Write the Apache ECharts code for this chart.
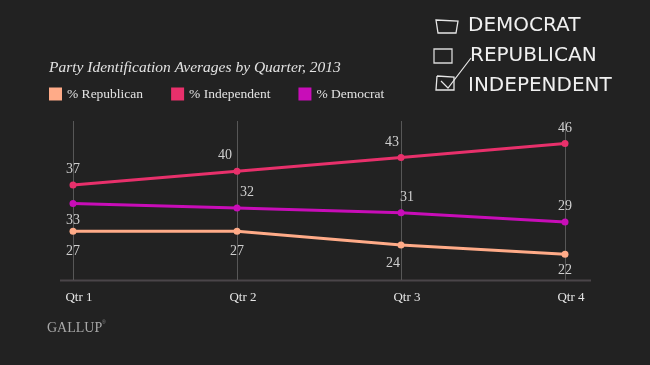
<!DOCTYPE html>
<html><head><meta charset="utf-8">
<script src="https://cdn.jsdelivr.net/npm/echarts@6/dist/echarts.min.js"></script>
<style>html,body{margin:0;padding:0;background:#222222;}#c{width:650px;height:365px;}</style>
</head><body><div id="c"></div>
<script>
const categories = ['Qtr 1', 'Qtr 2', 'Qtr 3', 'Qtr 4'];
const republican = [27, 27, 24, 22];
const independent = [37, 40, 43, 46];
const democrat = [33, 32, 31, 29];
const seriesNames = ['% Republican', '% Independent', '% Democrat'];

const serif = "'Liberation Serif', 'DejaVu Serif', serif";
const labelTweaks = {
  '% Republican': [['bottom', 0, 5], ['bottom', 0, 5], ['bottom', -8, 3], ['bottom', 0, 1]],
  '% Independent': [['top', 0, 0], ['top', -12, 0], ['top', -9, 0], ['top', 0, 0]],
  '% Democrat': [['bottom', 0, 1], ['top', 10, 0], ['top', 6, 0], ['top', 0, 0]]
};
function build(name, vals) {
  return vals.map((v, i) => {
    const t = labelTweaks[name][i];
    return { value: v, label: { position: t[0], offset: [t[1], t[2]] } };
  });
}
const colors = ['#ffab88', '#e8306b', '#c80db8'];
const chart = echarts.init(document.getElementById('c'), null, { renderer: 'canvas' });
const mk = (name, vals, color) => ({
  name, type: 'line', data: build(name, vals), symbol: 'circle', symbolSize: 7,
  lineStyle: { width: 3, color }, itemStyle: { color },
  label: { show: true, color: '#cfcfcf', fontFamily: serif, fontSize: 14, distance: 5 },
  emphasis: { disabled: true }, animation: false
});
chart.setOption({
  backgroundColor: '#222222',
  animation: false,
  title: {
    text: 'Party Identification Averages by Quarter, 2013', left: 49, top: 60, padding: 0,
    textStyle: { color: '#e2e2e2', fontFamily: serif, fontStyle: 'italic', fontWeight: 'normal', fontSize: 15.5 }
  },
  legend: {
    left: 49, top: 87, padding: 0, icon: 'rect', itemWidth: 13, itemHeight: 13, itemGap: 28, itemTextGap: 7,
    data: seriesNames,
    textStyle: { color: '#e2e2e2', fontFamily: serif, fontSize: 13.5 },
    selectedMode: false
  },
  grid: { left: 73, right: 85, top: 121, bottom: 85 },
  xAxis: {
    type: 'category', data: categories, boundaryGap: false,
    axisLine: { show: false }, axisTick: { show: false },
    axisLabel: { color: '#e6e6e6', fontFamily: serif, fontSize: 13, margin: 11, padding: [0, 0, 0, 12] },
    splitLine: { show: true, lineStyle: { color: '#575757', width: 1 } }
  },
  yAxis: { type: 'value', min: 16.4, max: 50.9, show: false, splitLine: { show: false } },
  series: [
    mk(seriesNames[0], republican, colors[0]),
    mk(seriesNames[1], independent, colors[1]),
    mk(seriesNames[2], democrat, colors[2])
  ],
  graphic: [
    { type: 'line', shape: { x1: 60, y1: 280.5, x2: 591, y2: 280.5 }, style: { stroke: '#4a4549', lineWidth: 2 } },
    { type: 'text', left: 47, top: 321, style: { text: 'GALLUP', fill: '#a8a8a8', font: "14px 'Liberation Serif', serif" } },
    { type: 'text', left: 102, top: 320, style: { text: '®', fill: '#888', font: "5px sans-serif" } },
    // chalk checkboxes
    { type: 'polygon', shape: { points: [[436, 20], [458, 21], [456, 33], [438, 33]] }, style: { fill: 'none', stroke: '#e6e6e6', lineWidth: 1.3 } },
    { type: 'rect', shape: { x: 434, y: 49, width: 18, height: 14 }, style: { fill: 'none', stroke: '#d8d8d8', lineWidth: 1.3 } },
    { type: 'polyline', shape: { points: [[437, 76], [454, 77], [454, 90], [436, 90], [437, 76]] }, style: { fill: 'none', stroke: '#e6e6e6', lineWidth: 1.3 } },
    { type: 'polyline', shape: { points: [[441, 81], [448, 88], [471, 58]] }, style: { fill: 'none', stroke: '#e6e6e6', lineWidth: 1.2 } },
    { type: 'text', left: 468, top: 16, style: { text: 'DEMOCRAT', fill: '#f0f0f0', font: "20px 'DejaVu Sans', sans-serif" } },
    { type: 'text', left: 470, top: 46, style: { text: 'REPUBLICAN', fill: '#f0f0f0', font: "20px 'DejaVu Sans', sans-serif" } },
    { type: 'text', left: 468, top: 76, style: { text: 'INDEPENDENT', fill: '#f0f0f0', font: "20px 'DejaVu Sans', sans-serif" } }
  ]
});
</script></body></html>
